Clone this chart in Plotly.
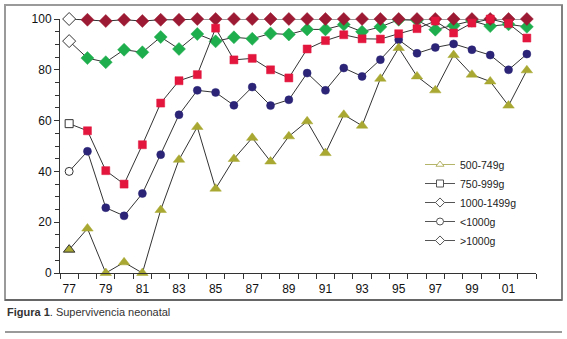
import plotly.graph_objects as go

years = ["77", "78", "79", "80", "81", "82", "83", "84", "85", "86", "87", "88", "89",
         "90", "91", "92", "93", "94", "95", "96", "97", "98", "99", "00", "01", "02"]
tick_labels = ["77", "79", "81", "83", "85", "87", "89", "91", "93", "95", "97", "99", "01"]

s_500_749 = [9.2, 17.5, 0, 4.2, 0, 24.8, 44.6, 57.5, 33.2, 44.9, 53.2, 43.9, 53.8,
             59.7, 47.2, 62.3, 58.0, 76.5, 88.6, 77.4, 71.9, 85.8, 78.1, 75.4, 65.9, 79.8]
s_750_999 = [58.8, 56.0, 40.3, 35.0, 50.5, 66.9, 75.7, 78.1, 96.4, 83.9, 84.5, 80.0, 76.8,
             88.2, 91.5, 93.8, 92.2, 92.1, 94.2, 96.2, 99.2, 94.5, 98.4, 100, 98.2, 92.5]
s_1000_1499 = [91.3, 84.6, 83.0, 87.9, 86.9, 92.9, 88.2, 94.1, 91.2, 92.8, 92.2, 94.3, 93.9,
               95.9, 95.9, 97.8, 95.0, 96.9, 99.7, 99.5, 95.8, 97.4, 99.3, 97.2, 97.9, 96.9]
s_lt1000 = [40.0, 47.9, 25.7, 22.5, 31.3, 46.6, 62.3, 71.9, 71.1, 66.0, 73.2, 65.9, 68.2,
            78.7, 71.9, 80.7, 77.4, 84.0, 91.8, 86.5, 88.8, 90.2, 87.9, 85.8, 80.0, 86.2]
s_gt1000 = [100, 99.7, 99.2, 99.7, 99.2, 99.7, 99.7, 100, 100, 100, 100, 100, 100,
            100, 100, 100, 100, 100, 100, 100, 100, 100, 100, 100, 100, 100]

idx = list(range(len(years)))

OLIVE = "#a8a832"
RED = "#e3163e"
GREEN = "#1fae4e"
NAVY = "#2b2477"
DRED = "#9c1a33"
LINE = "#333333"

def series(name, vals, color, symbol, size, first_white=True):
    n = len(vals)
    fill = [color] * n
    lc = [color] * n
    lw = [0.5] * n
    if first_white:
        fill[0] = "white"
    lc[0] = LINE
    lw[0] = 1
    return go.Scatter(
        x=idx, y=vals, mode="lines+markers", name=name, showlegend=False,
        line=dict(color=LINE, width=1),
        marker=dict(symbol=symbol, size=size, color=fill, line=dict(color=lc, width=lw)),
        cliponaxis=False,
    )

fig = go.Figure()
fig.add_trace(series("1000-1499g", s_1000_1499, GREEN, "diamond", 10))
fig.add_trace(series(">1000g", s_gt1000, DRED, "diamond", 10))
fig.add_trace(series("<1000g", s_lt1000, NAVY, "circle", 8))
fig.add_trace(series("500-749g", s_500_749, OLIVE, "triangle-up", 10, first_white=False))
fig.add_trace(series("750-999g", s_750_999, RED, "square", 8))

legend_items = [
    ("500-749g", "triangle-up", "#b5b56a"),
    ("750-999g", "square", "#555555"),
    ("1000-1499g", "diamond", "#555555"),
    ("<1000g", "circle", "#555555"),
    (">1000g", "diamond", "#555555"),
]
for name, sym, col in legend_items:
    fig.add_trace(go.Scatter(
        x=[None], y=[None], mode="lines+markers", name=name,
        line=dict(color=col, width=1),
        marker=dict(symbol=sym, size=7, color="white", line=dict(color=col, width=1)),
    ))

def px_x(p):
    return (p - 60) / 476.0

def px_y(p):
    return (273 - p) / 254.0

fig.update_layout(
    width=567, height=339,
    margin=dict(l=60, r=31, t=19, b=66),
    paper_bgcolor="white", plot_bgcolor="white",
    font=dict(family="Liberation Sans, Arial, sans-serif", size=12, color="#111111"),
    showlegend=True,
    legend=dict(x=px_x(420), y=px_y(150), xanchor="left", yanchor="top",
                bgcolor="rgba(0,0,0,0)", font=dict(size=10.5, color="#222222"),
                itemwidth=30, tracegroupgap=0),
    xaxis=dict(
        range=[-0.5, 25.5], showgrid=False, zeroline=False,
        showline=True, linecolor="#333333", linewidth=1,
        tickmode="array", tickvals=list(range(0, 26, 2)), ticktext=tick_labels,
        ticks="outside", ticklen=5, tickcolor="rgba(0,0,0,0)",
        minor=dict(tick0=-0.5, dtick=1, ticks="outside", ticklen=5, tickcolor="#333333", showgrid=False),
        tickfont=dict(size=12),
    ),
    yaxis=dict(
        range=[0, 100], showgrid=False, zeroline=False,
        showline=True, linecolor="#333333", linewidth=1,
        tickmode="linear", tick0=0, dtick=20,
        ticks="outside", ticklen=5, tickcolor="#333333",
        minor=dict(dtick=5, ticks="outside", ticklen=4, tickcolor="#333333", showgrid=False),
        tickfont=dict(size=12),
    ),
    shapes=[
        dict(type="rect", xref="paper", yref="paper",
             x0=px_x(5), x1=px_x(562), y0=px_y(300), y1=px_y(5),
             line=dict(color="#9a9a9a", width=2), fillcolor="rgba(0,0,0,0)", layer="below"),
        dict(type="line", xref="paper", yref="paper",
             x0=px_x(5), x1=px_x(562), y0=px_y(300), y1=px_y(300),
             line=dict(color="#333333", width=1)),
        dict(type="line", xref="paper", yref="paper",
             x0=px_x(562), x1=px_x(562), y0=px_y(300), y1=px_y(5),
             line=dict(color="#666666", width=1)),
        dict(type="line", xref="paper", yref="paper",
             x0=px_x(5), x1=px_x(562), y0=px_y(332), y1=px_y(332),
             line=dict(color="#9a9a9a", width=2)),
    ],
    annotations=[
        dict(xref="paper", yref="paper", x=px_x(5), y=px_y(312), xanchor="left", yanchor="middle",
             text="<b>Figura 1</b>. Supervivencia neonatal", showarrow=False,
             font=dict(size=11, color="#333333")),
    ],
)

fig.write_html("out.html")
